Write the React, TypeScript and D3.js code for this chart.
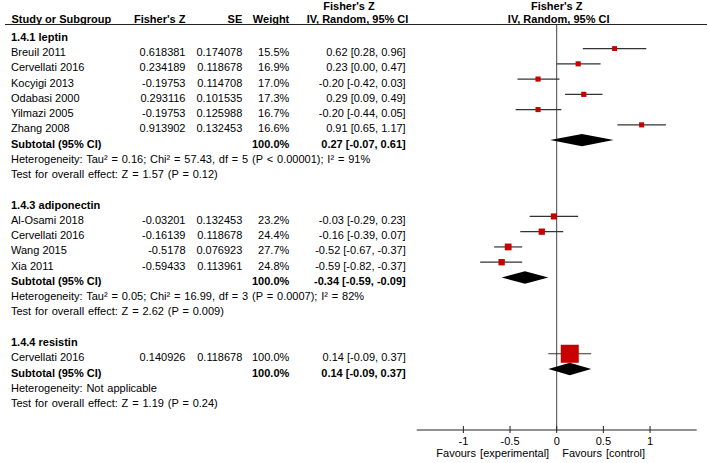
import React from 'react';
import * as d3 from 'd3';

// per-study values
const groupNames = ['1.4.1 leptin', '1.4.3 adiponectin', '1.4.4 resistin'];
const studyGroup = [0, 0, 0, 0, 0, 0, 1, 1, 1, 1, 2];
const studyNames = ['Breuil 2011', 'Cervellati 2016', 'Kocyigi 2013', 'Odabasi 2000', 'Yilmazi 2005', 'Zhang 2008',
    'Al-Osami 2018', 'Cervellati 2016', 'Wang 2015', 'Xia 2011',
    'Cervellati 2016'];
const fisherZ = ['0.618381', '0.234189', '-0.19753', '0.293116', '-0.19753', '0.913902',
    '-0.03201', '-0.16139', '-0.5178', '-0.59433',
    '0.140926'];
const seValues = ['0.174078', '0.118678', '0.114708', '0.101535', '0.125988', '0.132453',
    '0.132453', '0.118678', '0.076923', '0.113961',
    '0.118678'];
const weights = [15.5, 16.9, 17.0, 17.3, 16.7, 16.6, 23.2, 24.4, 27.7, 24.8, 100.0];
const estimates = [0.62, 0.23, -0.20, 0.29, -0.20, 0.91, -0.03, -0.16, -0.52, -0.59, 0.14];
const ciLow = [0.28, 0.00, -0.42, 0.09, -0.44, 0.65, -0.29, -0.39, -0.67, -0.82, -0.09];
const ciHigh = [0.96, 0.47, 0.03, 0.49, 0.05, 1.17, 0.23, 0.07, -0.37, -0.37, 0.37];

// subgroup totals
const subEst = [0.27, -0.34, 0.14];
const subLow = [-0.07, -0.59, -0.09];
const subHigh = [0.61, -0.09, 0.37];
const heterogeneity = [
    'Heterogeneity: Tau² = 0.16; Chi² = 57.43, df = 5 (P < 0.00001); I² = 91%',
    'Heterogeneity: Tau² = 0.05; Chi² = 16.99, df = 3 (P = 0.0007); I² = 82%',
    'Heterogeneity: Not applicable'
];
const overallTest = [
    'Test for overall effect: Z = 1.57 (P = 0.12)',
    'Test for overall effect: Z = 2.62 (P = 0.009)',
    'Test for overall effect: Z = 1.19 (P = 0.24)'
];

const axisTicks = [-1, -0.5, 0, 0.5, 1];
const tickLabels = ['-1', '-0.5', '0', '0.5', '1'];

// plain hyphen for negatives, like the original
const fmt = d3.formatLocale({decimal: '.', thousands: ',', grouping: [3], currency: ['', ''], minus: '-'}).format('.2f');
const ciText = (e: number, l: number, h: number) => `${fmt(e)} [${fmt(l)}, ${fmt(h)}]`;

export default function App() {
    const width = 709, height = 463;
    const font = '"Liberation Sans", Arial, sans-serif';
    const red = '#c80000';

    const x = d3.scaleLinear().domain([-1.5, 1.5]).range([416.7, 696.7]);
    const rowY = d3.scaleLinear().domain([0, 1]).range([40.8, 56.06]); // text baseline per row index
    const box = d3.scaleLinear().domain([0, 100]).range([2.5, 18]);
    const axisY = 430;

    // lay out the rows
    type Row = {kind: string, g: number, s?: number, i: number};
    const rows: Row[] = [];
    let idx = 0;
    groupNames.forEach((name, g) => {
        rows.push({kind: 'group', g, i: idx++});
        studyGroup.forEach((sg, s) => {
            if (sg === g) rows.push({kind: 'study', g, s, i: idx++});
        });
        rows.push({kind: 'subtotal', g, i: idx++});
        rows.push({kind: 'het', g, i: idx++});
        rows.push({kind: 'test', g, i: idx++});
        idx++;
    });

    const col = {study: 11, z: 185.5, se: 242.3, w: 289.3, ci: 405.7};

    return (
        <svg width={width} height={height} style={{position: 'absolute', left: 0, top: 0}}
             fontFamily={font} fontSize="11px">
            <rect width={width} height={height} fill="white"/>

            {/* headers */}
            <g fontWeight="bold">
                <text x={349} y={10} textAnchor="middle">Fisher's Z</text>
                <text x={x(0)} y={10} textAnchor="middle">Fisher's Z</text>
                <text x={col.study + 0.5} y={23}>Study or Subgroup</text>
                <text x={col.z} y={23} textAnchor="end">Fisher's Z</text>
                <text x={col.se} y={23} textAnchor="end">SE</text>
                <text x={col.w} y={23} textAnchor="end">Weight</text>
                <text x={357.5} y={23} textAnchor="middle">IV, Random, 95% CI</text>
                <text x={x(0) + 2} y={23} textAnchor="middle">IV, Random, 95% CI</text>
            </g>
            <line x1={5} x2={707} y1={24.5} y2={24.5} stroke="#222" strokeWidth={1}/>

            {/* zero line */}
            <line x1={x(0)} x2={x(0)} y1={25} y2={axisY} stroke="#444" strokeWidth={1}/>

            {rows.map((r, k) => {
                const yb = rowY(r.i);
                const ym = yb - 7.5;
                if (r.kind === 'group') {
                    return <text key={k} x={col.study} y={yb} fontWeight="bold">{groupNames[r.g]}</text>;
                }
                if (r.kind === 'study') {
                    const s = r.s as number;
                    const b = box(weights[s]);
                    return (
                        <g key={k}>
                            <text x={col.study} y={yb}>{studyNames[s]}</text>
                            <text x={col.z} y={yb} textAnchor="end">{fisherZ[s]}</text>
                            <text x={col.se} y={yb} textAnchor="end">{seValues[s]}</text>
                            <text x={col.w} y={yb} textAnchor="end">{weights[s].toFixed(1)}%</text>
                            <text x={col.ci} y={yb} textAnchor="end">{ciText(estimates[s], ciLow[s], ciHigh[s])}</text>
                            <line x1={x(ciLow[s])} x2={x(ciHigh[s])} y1={ym} y2={ym} stroke="#333" strokeWidth={1.2}/>
                            <rect x={x(estimates[s]) - b / 2} y={ym - b / 2} width={b} height={b} fill={red}/>
                        </g>
                    );
                }
                if (r.kind === 'subtotal') {
                    const g = r.g;
                    const h = 6.2;
                    const d = `M${x(subLow[g])},${ym} L${x(subEst[g])},${ym - h} L${x(subHigh[g])},${ym} L${x(subEst[g])},${ym + h} Z`;
                    return (
                        <g key={k} fontWeight="bold">
                            <text x={col.study} y={yb}>Subtotal (95% CI)</text>
                            <text x={col.w} y={yb} textAnchor="end">100.0%</text>
                            <text x={col.ci} y={yb} textAnchor="end">{ciText(subEst[g], subLow[g], subHigh[g])}</text>
                            <path d={d} fill="black"/>
                        </g>
                    );
                }
                if (r.kind === 'het') {
                    return <text key={k} x={col.study} y={yb} wordSpacing="0.8">{heterogeneity[r.g]}</text>;
                }
                return <text key={k} x={col.study} y={yb} wordSpacing="0.8">{overallTest[r.g]}</text>;
            })}

            {/* axis */}
            <line x1={x.range()[0]} x2={x.range()[1]} y1={axisY} y2={axisY} stroke="#222" strokeWidth={1}/>
            {axisTicks.map((t, i) => (
                <g key={i}>
                    <line x1={x(t)} x2={x(t)} y1={axisY - 4} y2={axisY + 3} stroke="#222" strokeWidth={1}/>
                    <text x={x(t)} y={445} textAnchor="middle">{tickLabels[i]}</text>
                </g>
            ))}
            <text x={x(0) - 7.5} y={457} textAnchor="end" wordSpacing="1">Favours [experimental]</text>
            <text x={x(0) + 5.5} y={457} wordSpacing="1">Favours [control]</text>
        </svg>
    );
}
